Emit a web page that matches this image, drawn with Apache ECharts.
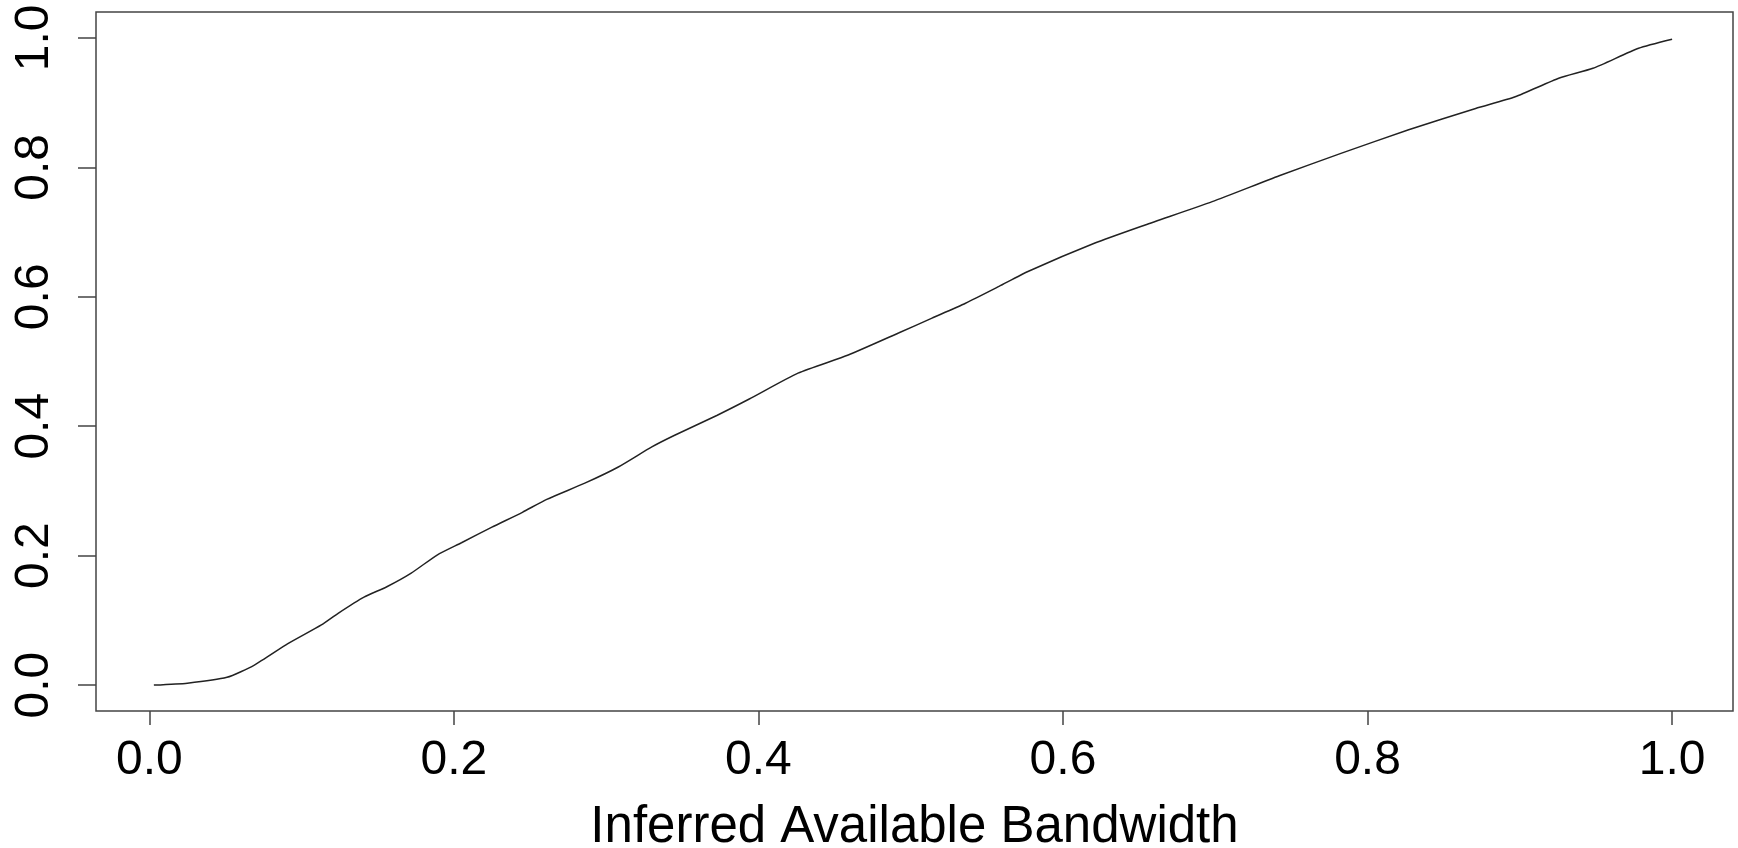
<!DOCTYPE html>
<html>
<head>
<meta charset="utf-8">
<script src="https://cdn.jsdelivr.net/npm/echarts@6/dist/echarts.min.js"></script>
<style>
  html, body { margin: 0; padding: 0; background: #fff; }
  #chart { width: 1738px; height: 848px; }
</style>
</head>
<body>
<div id="chart"></div>
<script>
  // 曲线数据
  const bandwidth = [0.003, 0.025, 0.051, 0.069, 0.091, 0.113, 0.124, 0.141, 0.156, 0.172,
    0.189, 0.205, 0.225, 0.245, 0.261, 0.286, 0.308, 0.330, 0.345, 0.373,
    0.394, 0.426, 0.459, 0.492, 0.514, 0.536, 0.558, 0.577, 0.621, 0.654,
    0.698, 0.742, 0.783, 0.827, 0.871, 0.897, 0.926, 0.948, 0.978, 1.000]
  const cdf = [0.000, 0.003, 0.012, 0.031, 0.064, 0.093, 0.111, 0.136, 0.152, 0.173,
    0.201, 0.220, 0.244, 0.267, 0.287, 0.312, 0.337, 0.368, 0.386, 0.417,
    0.442, 0.482, 0.510, 0.544, 0.567, 0.590, 0.616, 0.639, 0.683, 0.711,
    0.747, 0.787, 0.822, 0.858, 0.891, 0.909, 0.938, 0.953, 0.984, 0.998]
  const xTicks = [0, 0.2, 0.4, 0.6, 0.8, 1.0]
  const yTicks = [0, 0.2, 0.4, 0.6, 0.8, 1.0]
  const xName = 'Inferred Available Bandwidth'

  const font = 'Liberation Sans, Arial, Helvetica, sans-serif'
  const axisColor = '#444'

  let chart = echarts.init(document.getElementById('chart'), null, { renderer: 'canvas' })

  let points = bandwidth.map((x, i) => [x, cdf[i]])

  let option = {
    animation: false,
    backgroundColor: '#fff',
    grid: {
      left: 96,
      right: 5,
      top: 12,
      bottom: 137,
      show: true,
      borderColor: axisColor,
      borderWidth: 1.5,
      containLabel: false,
      outerBoundsMode: 'none'
    },
    xAxis: {
      type: 'value',
      min: -0.035,
      max: 1.04,
      name: xName,
      nameLocation: 'middle',
      nameGap: 91,
      nameTextStyle: {
        color: '#000',
        fontSize: 51,
        fontFamily: font
      },
      axisLine: { show: false, onZero: false },
      splitLine: { show: false },
      axisTick: {
        show: true,
        length: 14,
        customValues: xTicks,
        lineStyle: { color: axisColor, width: 1.5 }
      },
      axisLabel: {
        customValues: xTicks,
        margin: 26,
        color: '#000',
        fontSize: 48,
        fontFamily: font,
        formatter: v => v.toFixed(1)
      }
    },
    yAxis: {
      type: 'value',
      min: -0.04,
      max: 1.04,
      axisLine: { show: false, onZero: false },
      splitLine: { show: false },
      axisTick: {
        show: true,
        length: 18,
        customValues: yTicks,
        lineStyle: { color: axisColor, width: 1.5 }
      },
      axisLabel: {
        customValues: yTicks,
        rotate: 90,
        margin: 37,
        color: '#000',
        fontSize: 48,
        fontFamily: font,
        formatter: v => v.toFixed(1)
      }
    },
    series: [{
      type: 'line',
      data: points,
      showSymbol: false,
      smooth: 0.2,
      lineStyle: { color: '#222', width: 1.5 }
    }]
  }

  chart.setOption(option)
</script>
</body>
</html>
